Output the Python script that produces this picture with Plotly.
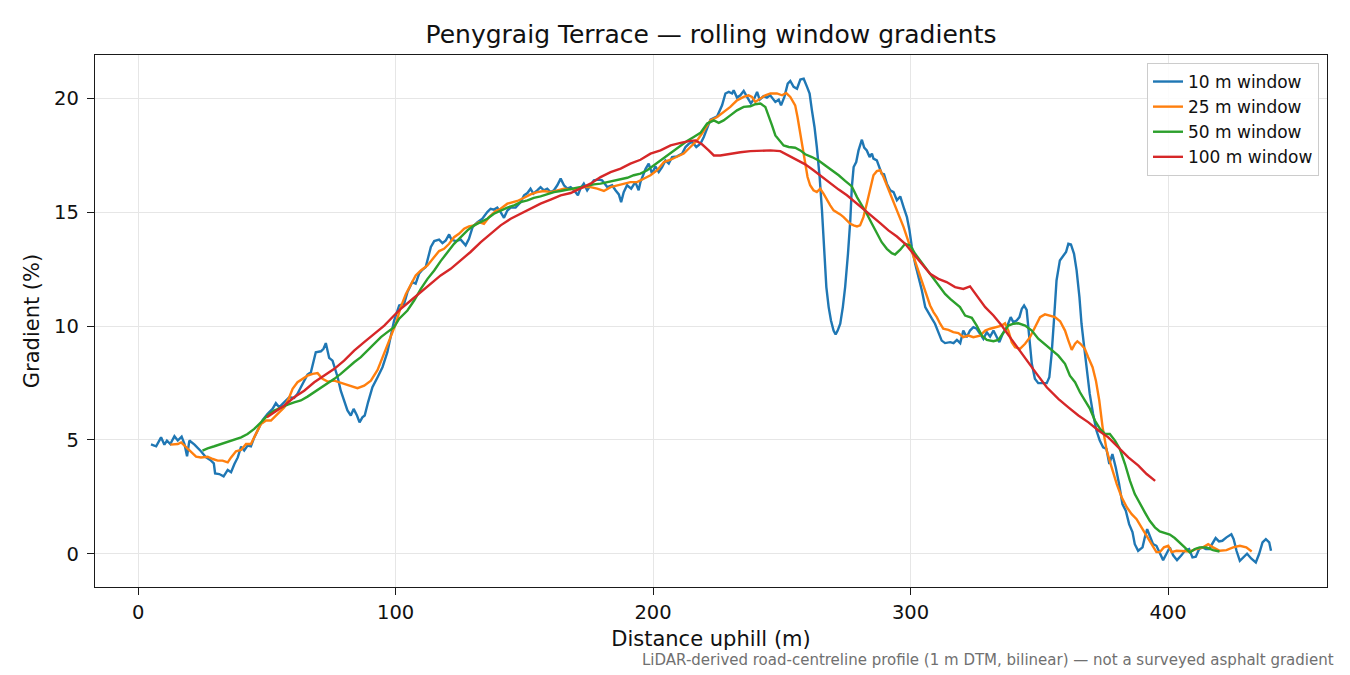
"""
Penygraig Terrace 구배 프로파일 - 이동창(rolling window) 크기별 비교
- 값은 LiDAR 도로 중심선 프로파일에서 읽어온 것
- 출력: out.html
"""

import plotly.graph_objects as go

# ── 데이터 ──
# 10 m 창
X_10 = [
    5.0, 7.0, 8.9, 10.2, 11.2, 12.5, 14.1, 15.4, 16.9, 18.0, 19.0, 19.9, 21.9, 23.1,
    24.4, 26.4, 28.3, 29.4, 29.9, 31.5, 33.2, 34.8, 36.1, 37.4, 38.7, 40.0, 41.2,
    42.5, 43.8, 45.1, 46.4, 48.4, 50.3, 52.2, 53.5, 54.8, 56.1, 57.4, 58.7, 60.6,
    61.9, 63.2, 64.5, 65.8, 67.1, 68.1, 69.0, 71.0, 72.0, 72.9, 74.2, 75.5, 76.4,
    77.5, 78.7, 80.0, 81.3, 82.6, 83.7, 85.0, 86.0, 87.1, 88.0, 89.3, 91.0, 93.0,
    94.9, 96.8, 98.1, 99.4, 101.4, 103.3, 104.6, 106.5, 107.8, 109.1, 110.4, 111.7,
    113.7, 115.0, 116.9, 118.2, 119.5, 120.8, 121.7, 123.4, 125.3, 127.2, 128.5,
    129.9, 131.8, 133.7, 135.6, 136.9, 138.2, 139.5, 140.8, 142.1, 143.4, 144.7,
    146.6, 148.6, 149.9, 151.2, 152.4, 153.5, 155.0, 156.3, 157.6, 158.9, 160.2,
    161.5, 162.8, 164.1, 165.4, 166.7, 168.0, 169.3, 170.8, 171.8, 173.1, 174.4,
    175.7, 177.0, 179.0, 180.2, 182.2, 184.1, 185.4, 186.7, 187.6, 188.6, 189.9,
    191.5, 193.1, 194.4, 195.1, 197.1, 198.3, 199.6, 200.9, 202.2, 203.5, 204.8,
    206.1, 207.4, 209.3, 211.3, 212.6, 213.9, 215.2, 216.8, 218.4, 219.7, 222.3,
    224.9, 226.8, 228.1, 229.4, 230.7, 231.3, 232.6, 233.9, 235.2, 236.5, 238.0,
    239.3, 240.4, 241.4, 242.9, 244.2, 245.5, 247.5, 248.8, 249.7, 251.0, 252.3,
    253.3, 254.6, 255.9, 257.2, 258.5, 259.8, 260.8, 261.7, 262.7, 263.6, 264.7,
    265.6, 266.5, 267.3, 268.2, 269.1, 270.1, 270.9, 271.7, 272.7, 273.7, 274.6,
    275.7, 276.6, 277.2, 277.9, 278.9, 279.8, 281.1, 282.0, 283.0, 284.1, 285.0,
    285.6, 286.9, 288.2, 288.8, 289.7, 290.8, 292.1, 293.4, 294.7, 296.0, 297.3,
    298.6, 299.6, 300.5, 301.8, 303.1, 304.4, 305.7, 307.0, 308.3, 309.5, 310.8,
    312.1, 313.4, 315.4, 316.7, 318.0, 319.3, 320.5, 321.8, 323.1, 324.4, 325.7,
    327.0, 328.3, 329.6, 330.9, 332.2, 333.4, 334.5, 335.8, 337.4, 338.9, 339.9,
    341.2, 342.3, 343.2, 344.1, 345.1, 345.7, 346.4, 347.1, 348.3, 349.6, 351.3,
    352.9, 353.9, 354.8, 355.7, 356.7, 358.0, 359.3, 360.4, 361.3, 362.3, 363.5,
    364.5, 365.6, 366.4, 367.3, 368.4, 369.6, 370.9, 372.2, 373.5, 374.8, 376.1,
    377.2, 378.4, 379.7, 381.0, 382.3, 383.6, 384.9, 386.2, 387.1, 388.4, 390.1,
    391.0, 391.9, 392.9, 394.2, 395.5, 396.8, 398.1, 399.4, 400.7, 402.0, 403.5,
    405.2, 406.5, 408.2, 409.5, 410.8, 412.1, 413.4, 414.7, 416.0, 417.2, 418.5,
    419.8, 421.1, 422.7, 424.6, 425.5, 426.6, 427.9, 429.2, 430.7, 432.4, 434.1,
    435.4, 436.7, 438.0, 439.3, 440.0,
]
Y_10 = [
    4.80, 4.72, 5.11, 4.79, 4.97, 4.82, 5.16, 4.97, 5.14, 4.82, 4.28, 4.97, 4.79, 4.67,
    4.50, 4.23, 4.09, 3.97, 3.53, 3.50, 3.40, 3.68, 3.58, 3.94, 4.23, 4.70, 4.53,
    4.75, 4.72, 5.11, 5.41, 5.88, 6.14, 6.36, 6.61, 6.43, 6.58, 6.73, 6.87, 6.84,
    7.02, 7.31, 7.60, 7.87, 7.97, 8.48, 8.85, 8.89, 9.00, 9.25, 8.60, 8.48, 8.19,
    7.75, 7.16, 6.73, 6.29, 6.07, 6.36, 6.07, 5.77, 5.99, 6.07, 6.65, 7.31, 7.75,
    8.19, 8.85, 9.51, 10.23, 10.90, 10.97, 11.49, 11.93, 11.86, 12.29, 12.47, 12.59,
    13.47, 13.73, 13.79, 13.64, 13.76, 14.02, 13.79, 13.73, 13.79, 13.54, 13.83,
    14.34, 14.56, 14.71, 15.00, 15.15, 15.11, 15.20, 15.00, 14.75, 15.07, 15.20,
    15.20, 15.44, 15.74, 15.84, 16.03, 15.81, 15.96, 16.10, 15.96, 16.03, 15.88,
    15.96, 16.18, 16.47, 16.18, 16.03, 16.10, 15.96, 15.74, 16.03, 16.25, 15.96,
    16.18, 16.40, 16.43, 16.40, 16.10, 16.18, 15.96, 15.78, 15.44, 15.88, 16.18,
    16.03, 16.32, 15.96, 16.32, 16.90, 17.13, 16.69, 17.01, 16.76, 16.98, 17.27,
    17.13, 17.42, 17.45, 17.57, 17.86, 18.00, 18.08, 17.86, 18.00, 18.30, 19.06,
    19.21, 19.69, 20.21, 20.28, 20.21, 20.35, 20.03, 20.13, 20.32, 20.06, 19.77,
    19.99, 20.28, 19.94, 20.09, 20.03, 20.13, 19.84, 19.94, 19.69, 20.06, 20.64,
    20.76, 20.50, 20.42, 20.82, 20.86, 20.50, 20.21, 19.47, 18.74, 17.86, 16.54,
    15.08, 13.17, 11.71, 10.83, 10.24, 9.80, 9.63, 9.80, 10.10, 10.83, 11.71,
    13.17, 14.64, 16.10, 16.98, 17.20, 17.71, 18.18, 17.83, 17.71, 17.42, 17.57,
    17.35, 17.27, 16.84, 16.69, 16.66, 16.25, 15.96, 15.88, 15.52, 15.69, 15.22,
    14.78, 14.20, 13.47, 12.73, 12.15, 11.56, 10.83, 10.54, 10.32, 10.10, 9.73,
    9.36, 9.25, 9.29, 9.25, 9.39, 9.25, 9.80, 9.51, 9.80, 9.95, 9.88,
    9.66, 9.44, 9.73, 9.54, 9.80, 9.51, 9.29, 9.66, 9.95, 10.39, 10.17,
    10.24, 10.39, 10.75, 10.90, 10.71, 9.95, 9.07, 8.34, 7.68, 7.49, 7.49,
    7.49, 7.75, 8.78, 10.24, 12.00, 12.88, 13.10, 13.25, 13.61, 13.58, 13.17,
    12.44, 11.27, 10.10, 9.22, 8.19, 7.02, 6.14, 5.41, 4.97, 4.67, 4.60,
    3.94, 4.38, 3.79, 3.06, 2.18, 1.89, 1.30, 0.95, 0.42, 0.13, 0.28,
    0.72, 1.08, 0.79, 0.42, 0.35, 0.00, -0.28, 0.00, 0.28, -0.07, -0.28,
    -0.07, 0.13, 0.21, -0.16, -0.13, 0.21, 0.28, 0.21, 0.21, 0.42, 0.69,
    0.54, 0.57, 0.72, 0.86, 0.64, 0.13, -0.31, -0.16, 0.00, -0.22, -0.38,
    0.00, 0.50, 0.64, 0.50, 0.13,
]

# 25 m 창
X_25 = [
    12.5, 15.4, 16.7, 18.0, 19.9, 22.5, 24.4, 27.0, 29.0, 30.9, 32.8, 34.8, 36.1,
    38.0, 40.0, 41.9, 43.8, 45.8, 47.7, 49.7, 51.6, 54.2, 56.8, 58.7, 60.0, 61.9,
    63.9, 65.8, 67.8, 69.7, 71.6, 73.6, 76.2, 78.1, 80.0, 82.6, 85.2, 87.8, 90.4,
    93.0, 95.6, 97.5, 100.1, 102.0, 104.0, 105.9, 107.8, 109.8, 112.4, 115.0, 116.9,
    118.8, 120.8, 122.7, 124.6, 126.6, 128.5, 130.5, 132.4, 134.3, 136.3, 138.9,
    140.8, 143.4, 145.3, 147.3, 149.9, 152.4, 155.0, 157.6, 160.2, 162.8, 165.4,
    168.0, 170.5, 173.1, 175.7, 178.3, 180.9, 183.5, 186.1, 188.6, 191.2, 193.8,
    196.4, 199.0, 201.6, 204.2, 206.8, 209.3, 211.9, 214.5, 217.1, 219.0, 222.3,
    224.9, 227.4, 230.0, 232.6, 235.2, 237.1, 238.4, 239.7, 241.7, 243.6, 245.6,
    248.1, 250.1, 251.7, 253.3, 255.2, 256.1, 257.2, 258.2, 259.1, 260.0, 261.0,
    262.3, 263.6, 264.9, 266.2, 267.5, 268.8, 270.1, 271.4, 272.7, 274.0, 275.3,
    276.6, 277.9, 279.2, 280.4, 281.7, 283.0, 284.3, 285.6, 286.9, 288.2, 289.5,
    290.8, 292.1, 293.4, 294.7, 296.0, 297.3, 298.6, 299.9, 301.1, 302.4, 303.7,
    305.0, 306.3, 307.6, 308.9, 310.2, 311.5, 312.7, 314.7, 316.6, 318.6, 320.5,
    322.5, 324.4, 327.0, 329.0, 330.9, 333.5, 335.4, 336.7, 338.0, 339.3, 340.6,
    342.5, 344.5, 346.4, 348.4, 350.3, 352.2, 354.2, 356.1, 358.1, 360.0, 361.3,
    362.6, 363.9, 364.8, 366.0, 367.7, 369.0, 370.7, 372.0, 373.3, 374.6, 376.2,
    378.1, 380.1, 382.0, 384.0, 385.9, 387.8, 389.7, 391.7, 393.6, 395.5, 396.8,
    398.4, 400.1, 401.4, 403.3, 405.9, 408.5, 411.1, 413.6, 415.6, 417.5, 420.1,
    422.7, 425.3, 427.9, 430.4, 432.5,
]
Y_25 = [
    4.79, 4.82, 4.89, 4.75, 4.53, 4.26, 4.23, 4.26, 4.16, 4.09, 4.09, 4.01, 4.23,
    4.50, 4.56, 4.82, 4.82, 5.26, 5.70, 5.85, 5.85, 6.14, 6.43, 6.87, 7.24, 7.53,
    7.68, 7.82, 7.90, 7.93, 7.68, 7.56, 7.60, 7.53, 7.46, 7.34, 7.27, 7.38, 7.60,
    8.07, 8.78, 9.36, 10.10, 10.83, 11.41, 11.85, 12.22, 12.44, 12.66, 13.03, 13.29,
    13.39, 13.61, 13.90, 14.05, 14.27, 14.37, 14.42, 14.56, 14.49, 14.78, 15.05,
    15.15, 15.37, 15.44, 15.49, 15.63, 15.78, 15.88, 15.93, 15.88, 15.96, 16.03,
    16.00, 16.03, 16.10, 16.10, 16.03, 15.93, 16.10, 16.18, 16.25, 16.32, 16.32,
    16.47, 16.62, 16.84, 17.20, 17.30, 17.42, 17.57, 17.86, 18.15, 18.45, 19.03,
    19.18, 19.40, 19.62, 19.91, 20.06, 20.13, 20.06, 19.84, 19.99, 20.13, 20.21,
    20.21, 20.13, 20.23, 20.06, 19.69, 19.18, 18.45, 17.86, 17.13, 16.54, 16.18,
    15.96, 15.88, 16.03, 15.81, 15.52, 15.30, 15.08, 15.00, 14.90, 14.78, 14.64,
    14.49, 14.42, 14.37, 14.42, 14.78, 15.37, 16.03, 16.62, 16.80, 16.84, 16.54,
    16.18, 15.81, 15.44, 15.08, 14.71, 14.34, 13.90, 13.47, 13.03, 12.59, 12.15,
    11.71, 11.27, 10.90, 10.61, 10.39, 10.10, 9.88, 9.83, 9.73, 9.69, 9.51,
    9.58, 9.51, 9.58, 9.80, 9.88, 9.98, 10.02, 10.12, 9.80, 9.29, 9.07,
    9.00, 9.22, 9.51, 9.95, 10.39, 10.51, 10.46, 10.39, 10.21, 9.80, 9.36,
    8.95, 9.22, 9.33, 9.22, 9.00, 8.63, 8.19, 7.60, 6.73, 5.55, 4.53,
    3.79, 3.06, 2.48, 2.04, 1.74, 1.52, 1.16, 0.79, 0.42, 0.07, 0.07,
    0.28, 0.35, 0.07, 0.13, 0.10, 0.10, 0.21, 0.28, 0.42, 0.28, 0.13,
    0.16, 0.28, 0.35, 0.28, 0.10,
]

# 50 m 창
X_50 = [
    25.0, 27.0, 29.6, 32.2, 34.8, 37.4, 40.0, 42.5, 45.1, 47.7, 50.3, 52.9, 55.5,
    58.1, 60.6, 63.2, 65.8, 68.4, 71.0, 73.6, 76.2, 78.7, 81.3, 83.9, 86.5, 89.1,
    91.7, 94.3, 96.8, 99.4, 101.4, 104.6, 107.2, 109.8, 112.4, 115.0, 117.5, 120.1,
    122.7, 125.3, 127.9, 130.5, 133.1, 135.6, 138.2, 140.8, 143.4, 146.0, 148.6,
    151.2, 153.7, 156.3, 158.9, 161.5, 164.1, 166.7, 169.3, 171.8, 174.4, 177.0,
    179.6, 182.2, 184.8, 187.4, 190.0, 192.5, 195.1, 197.7, 200.3, 202.9, 205.5,
    208.1, 210.7, 213.2, 215.8, 218.4, 221.0, 223.6, 225.5, 227.4, 230.0, 232.6,
    235.2, 237.8, 239.7, 241.7, 243.6, 244.9, 246.2, 247.5, 248.8, 250.7, 252.7,
    255.2, 257.2, 259.1, 261.7, 264.3, 266.9, 269.5, 272.1, 274.6, 277.2, 279.2,
    281.1, 283.0, 285.0, 286.9, 288.8, 290.8, 292.7, 294.0, 296.0, 297.9, 299.9,
    301.8, 303.7, 305.7, 307.6, 309.5, 311.5, 313.4, 315.4, 318.0, 319.2, 321.2,
    323.8, 325.7, 327.7, 329.6, 332.2, 334.1, 336.1, 338.0, 340.0, 341.9, 344.5,
    347.1, 349.6, 352.2, 354.8, 357.4, 360.0, 361.9, 363.9, 365.8, 367.7, 369.7,
    371.6, 373.6, 375.5, 377.4, 379.4, 381.3, 383.3, 385.2, 387.1, 389.1, 391.0,
    392.9, 394.9, 396.8, 398.8, 400.7, 402.6, 404.6, 406.5, 408.5, 410.4, 412.3,
    414.9, 417.5, 420.0,
]
Y_50 = [
    4.53, 4.63, 4.72, 4.82, 4.89, 5.00, 5.11, 5.26, 5.48, 5.77, 6.07, 6.29, 6.43,
    6.55, 6.65, 6.73, 6.90, 7.09, 7.28, 7.49, 7.68, 7.90, 8.16, 8.41, 8.63, 8.92,
    9.22, 9.51, 9.73, 9.95, 10.32, 10.68, 11.12, 11.63, 12.07, 12.44, 12.85, 13.25,
    13.61, 13.90, 14.20, 14.42, 14.56, 14.71, 14.93, 15.07, 15.20, 15.30, 15.44,
    15.52, 15.63, 15.69, 15.78, 15.88, 15.93, 15.99, 16.03, 16.10, 16.18, 16.22,
    16.25, 16.32, 16.37, 16.43, 16.51, 16.62, 16.69, 16.84, 17.05, 17.27, 17.49,
    17.69, 17.93, 18.12, 18.30, 18.48, 18.89, 19.03, 18.92, 19.03, 19.25, 19.47,
    19.62, 19.65, 19.74, 19.77, 19.62, 19.25, 18.81, 18.37, 18.18, 17.93, 17.86,
    17.83, 17.71, 17.54, 17.42, 17.27, 17.05, 16.84, 16.62, 16.37, 16.13, 15.66,
    15.30, 14.93, 14.49, 14.05, 13.68, 13.39, 13.20, 13.14, 13.35, 13.61, 13.54,
    13.17, 12.88, 12.59, 12.29, 12.00, 11.71, 11.41, 11.19, 10.97, 10.83, 10.46,
    10.36, 10.02, 9.58, 9.39, 9.33, 9.39, 9.73, 10.02, 10.10, 10.12, 10.02,
    9.80, 9.44, 9.19, 8.92, 8.70, 8.34, 7.82, 7.53, 7.09, 6.73, 6.36,
    5.85, 5.48, 5.26, 5.26, 4.97, 4.60, 3.94, 3.21, 2.62, 2.18, 1.82,
    1.45, 1.16, 0.98, 0.89, 0.84, 0.69, 0.50, 0.28, 0.06, 0.21, 0.28,
    0.28, 0.16, 0.10,
]

# 100 m 창
X_100 = [
    50.0, 52.9, 56.8, 60.6, 64.5, 68.4, 72.3, 76.2, 80.0, 83.9, 87.8, 91.7, 95.6,
    99.4, 102.0, 105.9, 109.8, 113.7, 117.5, 121.4, 125.3, 129.1, 133.1, 136.9,
    140.8, 144.7, 148.6, 152.4, 156.3, 160.2, 164.1, 168.0, 171.8, 175.7, 179.6,
    183.5, 187.4, 191.2, 195.1, 199.0, 202.9, 206.8, 210.7, 213.9, 216.5, 219.0,
    221.6, 223.6, 226.1, 230.0, 233.9, 237.8, 241.7, 245.6, 249.4, 252.7, 255.9,
    259.1, 262.3, 265.6, 268.8, 272.1, 275.3, 278.5, 281.8, 285.0, 288.2, 291.4,
    294.7, 297.9, 301.1, 304.4, 307.6, 310.8, 314.0, 317.3, 320.5, 323.1, 325.7,
    329.0, 332.2, 335.4, 338.6, 341.8, 345.1, 349.0, 352.9, 357.4, 361.3, 365.2,
    369.1, 373.0, 376.8, 380.7, 384.6, 388.5, 391.7, 395.0,
]
Y_100 = [
    5.99, 6.21, 6.51, 6.87, 7.16, 7.53, 7.82, 8.12, 8.48, 8.92, 9.29, 9.66, 10.02,
    10.46, 10.75, 11.12, 11.49, 11.85, 12.22, 12.51, 12.88, 13.25, 13.68, 14.05,
    14.42, 14.71, 14.93, 15.15, 15.37, 15.55, 15.74, 15.84, 16.03, 16.25, 16.54,
    16.76, 16.91, 17.13, 17.30, 17.57, 17.71, 17.93, 18.04, 18.12, 18.15, 17.98,
    17.71, 17.49, 17.49, 17.57, 17.63, 17.68, 17.71, 17.71, 17.68, 17.49, 17.30,
    17.10, 16.84, 16.54, 16.25, 15.99, 15.74, 15.44, 15.15, 14.86, 14.52, 14.20,
    13.93, 13.61, 13.17, 12.73, 12.29, 12.07, 11.93, 11.71, 11.63, 11.74, 11.34,
    10.83, 10.46, 10.02, 9.51, 9.00, 8.51, 7.90, 7.31, 6.80, 6.43, 6.07,
    5.77, 5.41, 5.11, 4.67, 4.23, 3.87, 3.50, 3.20,
]

SERIES = [
    ("10 m window", X_10, Y_10, "#1f77b4"),
    ("25 m window", X_25, Y_25, "#ff7f0e"),
    ("50 m window", X_50, Y_50, "#2ca02c"),
    ("100 m window", X_100, Y_100, "#d62728"),
]

TITLE = "Penygraig Terrace — rolling window gradients"
NOTE = "LiDAR-derived road-centreline profile (1 m DTM, bilinear) — not a surveyed asphalt gradient"

FONT = "DejaVu Sans, Liberation Sans, sans-serif"

# 페이지 body 기본 여백(8px)만큼 당겨서 배치
PAGE_PAD = 8

# ── 차트 ──
fig = go.Figure()

for name, xs, ys, color in SERIES:
    fig.add_trace(go.Scatter(
        x=xs, y=ys, name=name, mode="lines",
        line=dict(color=color, width=2.4),
    ))

axis_common = dict(
    showline=True, linecolor="#1a1a1a", linewidth=1.4, mirror=True,
    ticks="outside", ticklen=7, tickwidth=1.3, tickcolor="#1a1a1a",
    showgrid=True, gridcolor="#e6e6e6", gridwidth=1,
    zeroline=False,
    tickfont=dict(size=19.5, color="#111"),
)

fig.update_xaxes(
    range=[-16.75, 461.75], tick0=0, dtick=100, ticklabelstandoff=0,
    title=dict(text="Distance uphill (m)", font=dict(size=21, color="#111"), standoff=8),
    **axis_common,
)
fig.update_yaxes(
    range=[-1.46, 21.9], tick0=0, dtick=5, ticklabelstandoff=4,
    title=dict(text="Gradient (%)", font=dict(size=21, color="#111"), standoff=8),
    **axis_common,
)

fig.add_annotation(
    text=NOTE, xref="paper", yref="paper", x=1.0073, y=-0.137,
    xanchor="right", yanchor="middle", showarrow=False,
    font=dict(size=15, color="#707070"),
)

fig.update_layout(
    width=1350, height=675,
    margin=dict(l=95 - PAGE_PAD, r=23 + PAGE_PAD, t=55 - PAGE_PAD, b=88 + PAGE_PAD),
    paper_bgcolor="white", plot_bgcolor="white",
    font=dict(family=FONT, color="#111"),
    title=dict(
        text=TITLE, x=(711 - PAGE_PAD) / 1350, xanchor="center",
        y=1 - (34 - PAGE_PAD) / 675, yanchor="middle", yref="container",
        font=dict(size=25, color="#111"),
    ),
    showlegend=True,
    legend=dict(
        x=0.9935, y=0.985, xanchor="right", yanchor="top",
        bgcolor="rgba(255,255,255,0.85)", bordercolor="#cccccc", borderwidth=1,
        font=dict(size=17, color="#111"),
    ),
)

fig.write_html("out.html")
